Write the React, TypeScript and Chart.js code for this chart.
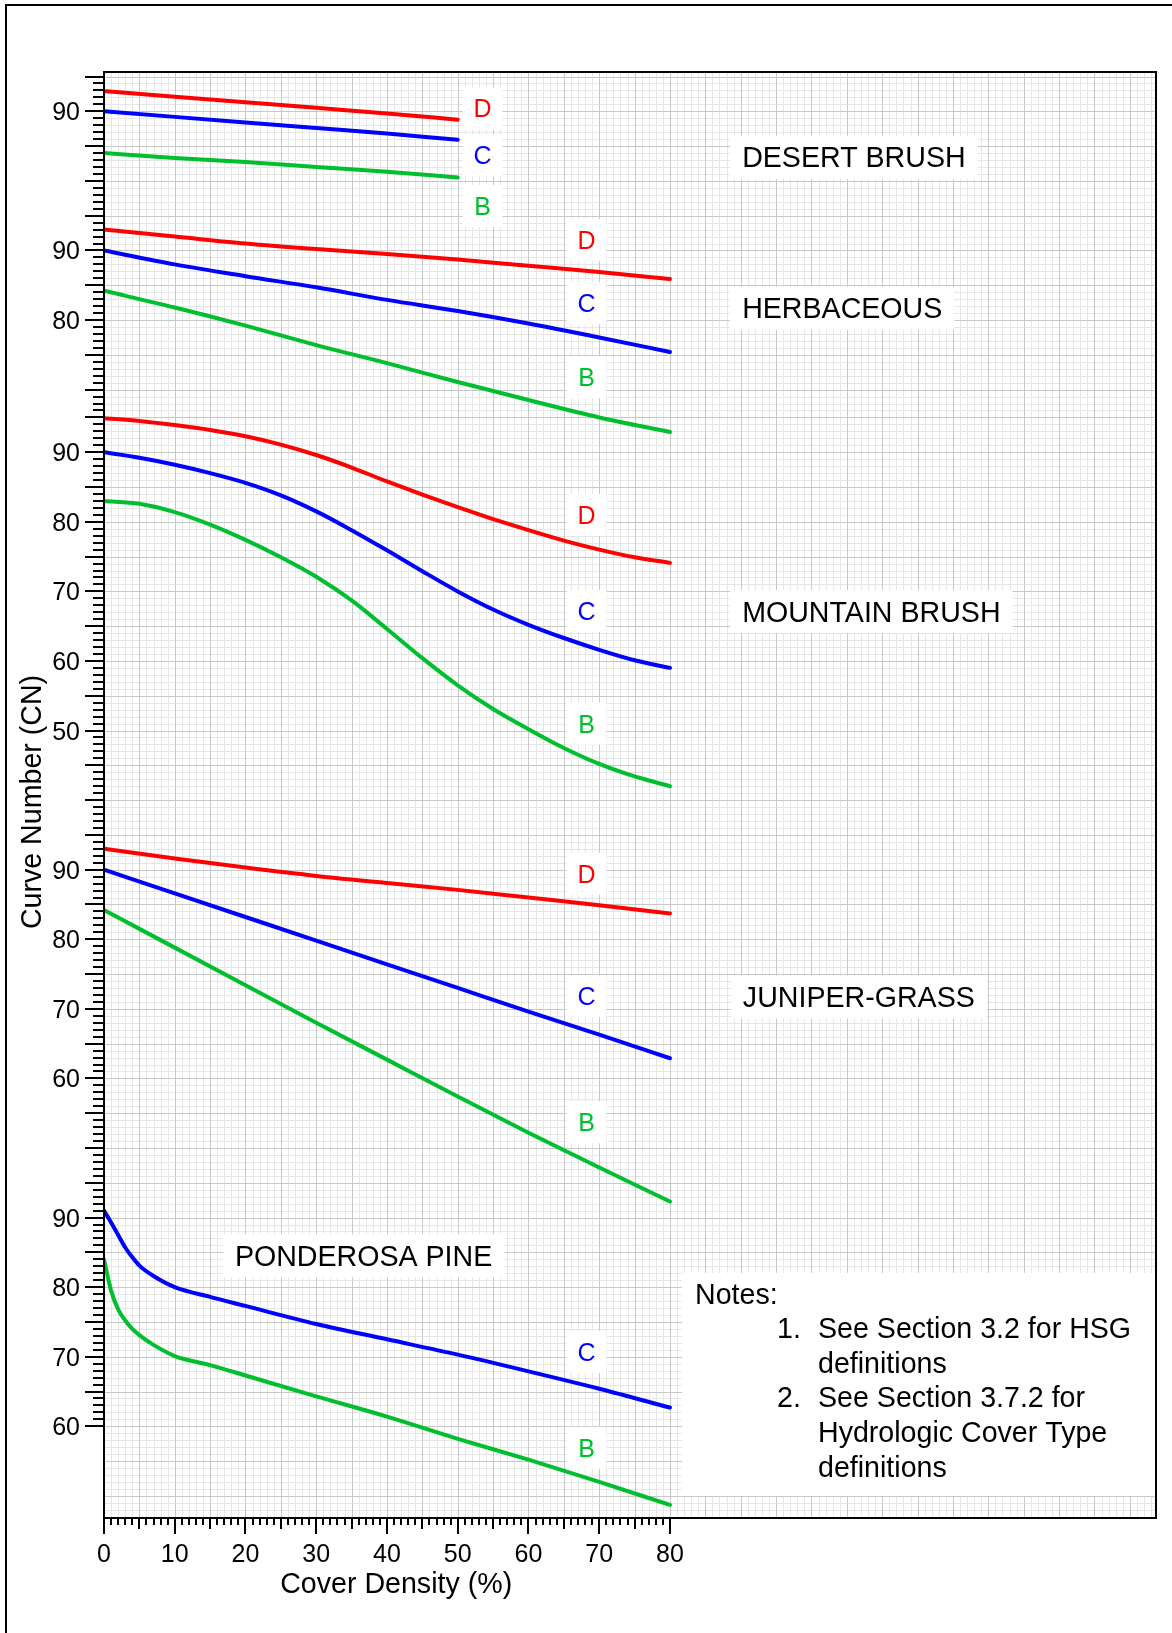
import React, { useEffect, useRef } from 'react';
import { Chart, registerables } from 'chart.js';

Chart.register(...registerables);

// ---------------- values ----------------
const coverDesert = [0, 10, 20, 30, 40, 50];
const desertD = [92.9, 92.1, 91.3, 90.5, 89.7, 88.8];
const desertC = [90.0, 89.2, 88.4, 87.6, 86.8, 85.9];
const desertB = [84.0, 83.3, 82.7, 82.0, 81.3, 80.5];

const coverHerbaceous = [0, 10, 20, 30, 40, 50, 60, 70, 80];
const herbaceousD = [93.0, 92.0, 91.0, 90.2, 89.5, 88.7, 87.8, 86.9, 85.9];
const herbaceousC = [90.0, 88.0, 86.3, 84.7, 82.9, 81.3, 79.5, 77.5, 75.4];
const herbaceousB = [84.2, 81.8, 79.2, 76.4, 73.8, 71.1, 68.5, 66.0, 63.9];

const coverMountain = [0, 5, 10, 15, 20, 25, 30, 35, 40, 45, 50, 55, 60, 65, 70, 75, 80];
const mountainD = [94.9, 94.5, 93.9, 93.2, 92.3, 91.1, 89.6, 87.8, 85.8, 83.9, 82.1, 80.4, 78.8, 77.3, 76.0, 74.9, 74.1];
const mountainC = [90.0, 89.2, 88.2, 87.0, 85.6, 83.8, 81.5, 78.8, 75.9, 72.9, 70.0, 67.4, 65.2, 63.3, 61.6, 60.1, 59.0];
const mountainB = [83.0, 82.6, 81.4, 79.6, 77.4, 74.9, 72.1, 68.7, 64.6, 60.4, 56.5, 53.1, 50.2, 47.5, 45.2, 43.4, 42.0];

const coverJuniper = [0, 10, 20, 30, 40, 50, 60, 70, 80];
const juniperD = [93.0, 91.6, 90.3, 89.1, 88.1, 87.1, 86.0, 84.9, 83.7];
const juniperC = [90.0, 86.6, 83.2, 79.8, 76.4, 73.0, 69.6, 66.3, 62.9];
const juniperB = [84.2, 78.8, 73.4, 68.0, 62.7, 57.4, 52.2, 47.2, 42.3];

const coverPonderosa = [0, 1, 2, 3, 4, 5, 7, 10, 15, 20, 30, 40, 50, 60, 70, 80];
const ponderosaC = [91.0, 89.3, 87.5, 85.7, 84.3, 83.1, 81.6, 80.0, 78.6, 77.3, 74.7, 72.5, 70.3, 67.9, 65.4, 62.7];
const ponderosaB = [84.0, 79.5, 76.8, 75.2, 74.0, 73.1, 71.7, 70.1, 68.8, 67.3, 64.3, 61.4, 58.2, 55.2, 52.0, 48.7];

const coverTicks = [0, 10, 20, 30, 40, 50, 60, 70, 80];
const desertTicks = [90];
const herbaceousTicks = [90, 80];
const mountainTicks = [90, 80, 70, 60, 50];
const juniperTicks = [90, 80, 70, 60];
const ponderosaTicks = [90, 80, 70, 60];

const panelNames = ['DESERT BRUSH', 'HERBACEOUS', 'MOUNTAIN BRUSH', 'JUNIPER-GRASS', 'PONDEROSA PINE'];
const soilGroups = ['D', 'C', 'B'];
const notesLines = [
  ['', 'Notes:'],
  ['1.', 'See Section 3.2 for HSG'],
  ['', 'definitions'],
  ['2.', 'See Section 3.7.2 for'],
  ['', 'Hydrologic Cover Type'],
  ['', 'definitions'],
];

const panelSeries = [
  { cover: coverDesert, curves: [desertD, desertC, desertB], ticks: desertTicks },
  { cover: coverHerbaceous, curves: [herbaceousD, herbaceousC, herbaceousB], ticks: herbaceousTicks },
  { cover: coverMountain, curves: [mountainD, mountainC, mountainB], ticks: mountainTicks },
  { cover: coverJuniper, curves: [juniperD, juniperC, juniperB], ticks: juniperTicks },
  { cover: coverPonderosa, curves: [null, ponderosaC, ponderosaB], ticks: ponderosaTicks },
];

// ---------------- layout / style ----------------
const FONT = '"Liberation Sans", Arial, Helvetica, sans-serif';
const COLORS = ['#ff0000', '#0000ff', '#00bf2f'];
const GRID_MINOR = '#e6e6e6';
const GRID_MAJOR = '#c8c8c8';
const BIG = 28.6;
const LAYOUT = {
  xMax: 148.7,
  yMin: -112.18,
  yMax: 95.65,
  shifts: [0, -20, -49, -109, -159],
  split: 48.5,
  tickTop: 95,
  tickBottom: -99,
  nameAnchor: [[90.2, 83.4], [90.2, 81.7], [90.2, 67.1], [90.3, 71.7], [18.5, 84.5]],
  letterX: [53.5, 68.2, 68.2, 68.2, 68.2],
  letterCN: [[90.4, 83.7, 76.4], [91.5, 82.4, 71.8], [81.0, 67.2, 51.0], [89.4, 71.8, 53.7], [null, 70.7, 56.9]],
  notesBox: { x: 81.7, top: -76.95, bottom: -109.0 },
};

const mod = (a: number, n: number) => ((a % n) + n) % n;
const isMajorY = (v: number) =>
  v >= LAYOUT.split ? mod(v - LAYOUT.shifts[0], 5) === 0 : mod(v - LAYOUT.shifts[2], 5) === 0;

function txt(ctx: CanvasRenderingContext2D, s: string, x: number, y: number, size: number, align: CanvasTextAlign, color = '#000') {
  ctx.font = `${size}px ${FONT}`;
  ctx.textAlign = align;
  ctx.textBaseline = 'alphabetic';
  ctx.fillStyle = color;
  ctx.fillText(s, x, y);
}

const overlayPlugin = {
  id: 'cnOverlay',
  beforeDatasetsDraw(chart: any) {
    const { ctx, chartArea: a, scales } = chart;
    const xs = scales.x;
    const ys = scales.y;
    ctx.save();
    ctx.fillStyle = '#ffffff';
    ctx.fillRect(a.left, a.top, a.right - a.left, a.bottom - a.top);
    ctx.lineWidth = 1;
    for (const major of [false, true]) {
      ctx.strokeStyle = major ? GRID_MAJOR : GRID_MINOR;
      ctx.beginPath();
      for (let i = Math.ceil(xs.min); i <= Math.floor(xs.max); i++) {
        if ((mod(i, 5) === 0) !== major) continue;
        const p = Math.round(xs.getPixelForValue(i)) + 0.5;
        ctx.moveTo(p, a.top);
        ctx.lineTo(p, a.bottom);
      }
      for (let v = Math.ceil(ys.min); v <= Math.floor(ys.max); v++) {
        if (isMajorY(v) !== major) continue;
        const p = Math.round(ys.getPixelForValue(v)) + 0.5;
        ctx.moveTo(a.left, p);
        ctx.lineTo(a.right, p);
      }
      ctx.stroke();
    }
    ctx.restore();
  },
  afterDatasetsDraw(chart: any) {
    const { ctx, chartArea: a, scales } = chart;
    const xs = scales.x;
    const ys = scales.y;
    const px = (v: number) => xs.getPixelForValue(v);
    const py = (v: number) => ys.getPixelForValue(v);
    ctx.save();

    // letter labels D / C / B and panel names
    panelSeries.forEach((ps, k) => {
      const shift = LAYOUT.shifts[k];
      LAYOUT.letterCN[k].forEach((cn, g) => {
        if (cn === null || !ps.curves[g]) return;
        const cx = px(LAYOUT.letterX[k]);
        const cy = py((cn as number) + shift);
        ctx.fillStyle = '#ffffff';
        ctx.fillRect(cx - 20, cy - 21, 40, 42);
        txt(ctx, soilGroups[g], cx, cy + 0.358 * 25, 25, 'center', COLORS[g]);
      });
      const [nx, ncn] = LAYOUT.nameAnchor[k];
      const lx = px(nx);
      const ly = py(ncn + shift);
      ctx.font = `${BIG}px ${FONT}`;
      const w = ctx.measureText(panelNames[k]).width;
      ctx.fillStyle = '#ffffff';
      ctx.fillRect(lx - 12, ly - 21.5, w + 24, 43);
      txt(ctx, panelNames[k], lx, ly + 0.358 * BIG, BIG, 'left');
    });

    // notes box
    const nb = LAYOUT.notesBox;
    const bx = px(nb.x);
    const by = py(nb.top);
    const bb = py(nb.bottom);
    ctx.fillStyle = '#ffffff';
    ctx.fillRect(bx, by, a.right - bx, bb - by);
    const rows = [21, 55, 90, 124, 159, 194];
    notesLines.forEach(([num, s], i) => {
      const base = by + rows[i] + 10;
      if (i === 0) {
        txt(ctx, s, bx + 13, base, BIG, 'left');
      } else {
        if (num) txt(ctx, num, bx + 95, base, BIG, 'left');
        txt(ctx, s, bx + 136, base, BIG, 'left');
      }
    });

    // plot border
    ctx.strokeStyle = '#000';
    ctx.lineWidth = 2;
    ctx.strokeRect(a.left, a.top, a.right - a.left, a.bottom - a.top);

    // y ticks
    ctx.beginPath();
    for (let v = LAYOUT.tickBottom; v <= LAYOUT.tickTop; v++) {
      const p = Math.round(py(v));
      const len = isMajorY(v) ? 19 : 11;
      ctx.moveTo(a.left - len, p);
      ctx.lineTo(a.left, p);
    }
    // x ticks
    for (let c = 0; c <= 80; c++) {
      const p = Math.round(px(c));
      const len = c % 10 === 0 ? 16 : c % 5 === 0 ? 11 : 7;
      ctx.moveTo(p, a.bottom);
      ctx.lineTo(p, a.bottom + len);
    }
    ctx.stroke();

    // y tick labels
    panelSeries.forEach((ps, k) => {
      ps.ticks.forEach((t) => {
        txt(ctx, String(t), 80, py(t + LAYOUT.shifts[k]) + 9, 25, 'right');
      });
    });
    // x tick labels
    coverTicks.forEach((c) => txt(ctx, String(c), px(c), a.bottom + 43.5, 25, 'center'));

    // axis titles
    txt(ctx, 'Cover Density (%)', px(41.3), a.bottom + 75, BIG, 'center');
    ctx.save();
    ctx.translate(41, 802);
    ctx.rotate(-Math.PI / 2);
    txt(ctx, 'Curve Number (CN)', 0, 0, BIG, 'center');
    ctx.restore();

    // outer frame
    ctx.fillStyle = '#000';
    ctx.fillRect(5, 4, chart.width, 2);
    ctx.fillRect(5, 4, 2, chart.height);
    ctx.restore();
  },
};

export default function App() {
  const ref = useRef<HTMLCanvasElement | null>(null);
  useEffect(() => {
    document.body.style.margin = '0';
    document.documentElement.style.overflow = 'hidden';
    const datasets: any[] = [];
    panelSeries.forEach((ps, k) => {
      ps.curves.forEach((vals, g) => {
        if (!vals) return;
        datasets.push({
          label: `${panelNames[k]} ${soilGroups[g]}`,
          data: ps.cover.map((c, i) => ({ x: c, y: vals[i] + LAYOUT.shifts[k] })),
          borderColor: COLORS[g],
          backgroundColor: COLORS[g],
          borderWidth: 4,
          pointRadius: 0,
          fill: false,
          cubicInterpolationMode: 'monotone',
          borderCapStyle: 'round',
          borderJoinStyle: 'round',
        });
      });
    });
    const chart = new Chart(ref.current as HTMLCanvasElement, {
      type: 'line',
      data: { datasets },
      options: {
        animation: false,
        responsive: false,
        events: [],
        layout: { padding: { left: 104, top: 72, right: 16, bottom: 115 }, autoPadding: false },
        plugins: { legend: { display: false }, tooltip: { enabled: false }, title: { display: false } },
        scales: {
          x: { type: 'linear', display: false, min: 0, max: LAYOUT.xMax },
          y: { type: 'linear', display: false, min: LAYOUT.yMin, max: LAYOUT.yMax },
        },
      } as any,
      plugins: [overlayPlugin as any],
    });
    return () => chart.destroy();
  }, []);
  return (
    <div style={{ width: 1172, height: 1633, overflow: 'hidden', background: '#fff' }}>
      <canvas ref={ref} width={1172} height={1633} style={{ display: 'block', width: 1172, height: 1633 }} />
    </div>
  );
}
